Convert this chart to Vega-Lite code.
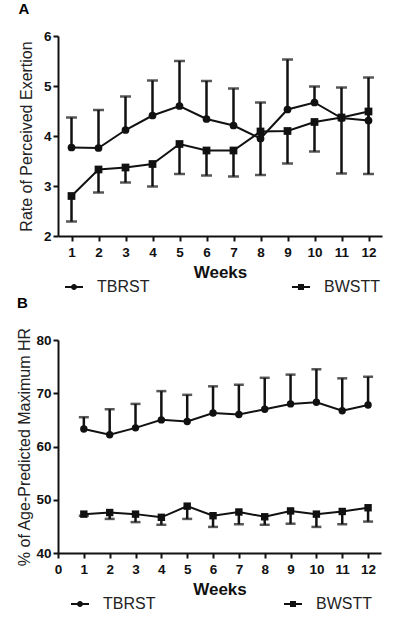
{
  "$schema": "https://vega.github.io/schema/vega-lite/v6.json",
  "padding": {"left": 16, "top": 2, "right": 10, "bottom": 5},
  "background": "white",
  "spacing": 0,
  "config": {
    "font": "Liberation Sans",
    "view": {"stroke": null},
    "axis": {
      "domainColor": "#111", "domainWidth": 2, "tickColor": "#111", "tickWidth": 2, "tickSize": 5,
      "labelFont": "Liberation Sans", "labelFontWeight": "bold", "labelFontSize": 13.5, "labelColor": "#111",
      "grid": false, "titleColor": "#222", "titleFont": "Liberation Sans", "labelPadding": 2
    },
    "title": {"fontSize": 15, "fontWeight": "bold", "anchor": "start", "color": "#000", "frame": "bounds"}
  },
  "datasets": {
    "rpe": [
      {"week": 1, "group": "TBRST", "mean": 3.77, "err": 4.37},
      {"week": 2, "group": "TBRST", "mean": 3.76, "err": 4.52},
      {"week": 3, "group": "TBRST", "mean": 4.12, "err": 4.79},
      {"week": 4, "group": "TBRST", "mean": 4.41, "err": 5.11},
      {"week": 5, "group": "TBRST", "mean": 4.60, "err": 5.50},
      {"week": 6, "group": "TBRST", "mean": 4.34, "err": 5.10},
      {"week": 7, "group": "TBRST", "mean": 4.21, "err": 4.95},
      {"week": 8, "group": "TBRST", "mean": 3.95, "err": 4.67},
      {"week": 9, "group": "TBRST", "mean": 4.53, "err": 5.53},
      {"week": 10, "group": "TBRST", "mean": 4.67, "err": 4.99},
      {"week": 11, "group": "TBRST", "mean": 4.36, "err": 4.97},
      {"week": 12, "group": "TBRST", "mean": 4.31, "err": 5.17},
      {"week": 1, "group": "BWSTT", "mean": 2.80, "err": 2.29},
      {"week": 2, "group": "BWSTT", "mean": 3.33, "err": 2.87},
      {"week": 3, "group": "BWSTT", "mean": 3.37, "err": 3.07},
      {"week": 4, "group": "BWSTT", "mean": 3.44, "err": 2.99},
      {"week": 5, "group": "BWSTT", "mean": 3.84, "err": 3.24},
      {"week": 6, "group": "BWSTT", "mean": 3.71, "err": 3.21},
      {"week": 7, "group": "BWSTT", "mean": 3.71, "err": 3.19},
      {"week": 8, "group": "BWSTT", "mean": 4.09, "err": 3.22},
      {"week": 9, "group": "BWSTT", "mean": 4.10, "err": 3.45},
      {"week": 10, "group": "BWSTT", "mean": 4.28, "err": 3.69},
      {"week": 11, "group": "BWSTT", "mean": 4.37, "err": 3.25},
      {"week": 12, "group": "BWSTT", "mean": 4.49, "err": 3.24}
    ],
    "hr": [
      {"week": 1, "group": "TBRST", "mean": 63.3, "err": 65.5},
      {"week": 2, "group": "TBRST", "mean": 62.2, "err": 67.0},
      {"week": 3, "group": "TBRST", "mean": 63.5, "err": 68.0},
      {"week": 4, "group": "TBRST", "mean": 65.0, "err": 70.4},
      {"week": 5, "group": "TBRST", "mean": 64.7, "err": 69.7},
      {"week": 6, "group": "TBRST", "mean": 66.3, "err": 71.3},
      {"week": 7, "group": "TBRST", "mean": 66.0, "err": 71.6},
      {"week": 8, "group": "TBRST", "mean": 67.0, "err": 72.9},
      {"week": 9, "group": "TBRST", "mean": 68.0, "err": 73.5},
      {"week": 10, "group": "TBRST", "mean": 68.3, "err": 74.5},
      {"week": 11, "group": "TBRST", "mean": 66.7, "err": 72.8},
      {"week": 12, "group": "TBRST", "mean": 67.8, "err": 73.1},
      {"week": 1, "group": "BWSTT", "mean": 47.3, "err": 47.0},
      {"week": 2, "group": "BWSTT", "mean": 47.6, "err": 46.4},
      {"week": 3, "group": "BWSTT", "mean": 47.3, "err": 45.8},
      {"week": 4, "group": "BWSTT", "mean": 46.7, "err": 45.3},
      {"week": 5, "group": "BWSTT", "mean": 48.8, "err": 46.4},
      {"week": 6, "group": "BWSTT", "mean": 47.0, "err": 44.9},
      {"week": 7, "group": "BWSTT", "mean": 47.7, "err": 45.4},
      {"week": 8, "group": "BWSTT", "mean": 46.8, "err": 45.3},
      {"week": 9, "group": "BWSTT", "mean": 47.9, "err": 45.5},
      {"week": 10, "group": "BWSTT", "mean": 47.3, "err": 44.9},
      {"week": 11, "group": "BWSTT", "mean": 47.8, "err": 45.4},
      {"week": 12, "group": "BWSTT", "mean": 48.5, "err": 45.9}
    ]
  },
  "resolve": {
    "scale": {"x": "independent", "y": "independent", "shape": "independent"},
    "axis": {"x": "independent", "y": "independent"},
    "legend": {"shape": "independent"}
  },
  "vconcat": [
    {
      "title": {"text": "A", "offset": 12},
      "width": 324,
      "height": 200,
      "data": {"name": "rpe"},
      "encoding": {
        "x": {
          "field": "week", "type": "quantitative",
          "scale": {"domain": [0.5, 12.5], "nice": false, "zero": false},
          "axis": {"values": [1,2,3,4,5,6,7,8,9,10,11,12], "title": "Weeks", "titleFontSize": 17, "titleFontWeight": "bold", "titleColor": "#111", "titlePadding": 6, "labelFlush": false, "labelPadding": 4}
        },
        "y": {"field": "mean", "type": "quantitative", "scale": {"domain": [2, 6], "nice": false, "zero": false},
          "axis": {"values": [2,3,4,5,6], "title": "Rate of Perceived Exertion", "titleFontSize": 16, "titleFontWeight": "normal", "titlePadding": 9}}
      },
      "layer": [
        {
          "mark": {"type": "rule", "strokeWidth": 2.5, "color": "#111"},
          "encoding": {"y2": {"field": "err"}}
        },
        {
          "mark": {"type": "tick", "orient": "horizontal", "size": 11, "thickness": 2.5, "color": "#111"},
          "encoding": {
            "y": {"field": "err", "type": "quantitative", "scale": {"domain": [2, 6], "nice": false, "zero": false},
              "axis": {"values": [2,3,4,5,6], "title": "Rate of Perceived Exertion", "titleFontSize": 16, "titleFontWeight": "normal", "titlePadding": 9}}
          }
        },
        {
          "mark": {"type": "line", "strokeWidth": 2, "color": "#111"},
          "encoding": {"detail": {"field": "group"}}
        },
        {
          "transform": [{"filter": "datum.group === 'TBRST'"}],
          "mark": {"type": "point", "shape": "circle", "filled": true, "size": 60, "color": "#111", "opacity": 1},
          "encoding": {}
        },
        {
          "transform": [{"filter": "datum.group === 'BWSTT'"}],
          "mark": {"type": "point", "shape": "square", "filled": true, "size": 60, "color": "#111", "opacity": 1},
          "encoding": {}
        },
        {
          "mark": {"type": "point", "filled": true, "size": 0, "color": "#111"},
          "encoding": {
            "shape": {
              "field": "group", "type": "nominal",
              "scale": {"domain": ["TBRST", "BWSTT"], "range": ["M-3,-0.3L3,-0.3L3,0.3L-3,0.3ZM-1,0A1,1,0,1,1,1,0A1,1,0,1,1,-1,0Z", "M-3,-0.3L3,-0.3L3,0.3L-3,0.3ZM-1,-1L1,-1L1,1L-1,1Z"]},
              "legend": {
                "orient": "none", "legendX": 8, "legendY": 243, "direction": "horizontal", "title": null, "padding": 0,
                "labelFontSize": 16, "labelFont": "Liberation Sans", "labelColor": "#222",
                "columnPadding": 142, "symbolSize": 36, "labelOffset": 15,
                "symbolStrokeWidth": 0, "symbolFillColor": "#111", "symbolOpacity": 1
              }
            }
          }
        }
      ]
    },
    {
      "title": {"text": "B", "offset": 16},
      "width": 323,
      "height": 213,
      "data": {"name": "hr"},
      "encoding": {
        "x": {
          "field": "week", "type": "quantitative",
          "scale": {"domain": [0, 12.5], "nice": false, "zero": false},
          "axis": {"values": [0,1,2,3,4,5,6,7,8,9,10,11,12], "title": "Weeks", "titleFontSize": 17, "titleFontWeight": "bold", "titleColor": "#111", "titlePadding": 6, "labelFlush": false, "labelPadding": 4}
        },
        "y": {"field": "mean", "type": "quantitative", "scale": {"domain": [40, 80], "nice": false, "zero": false},
          "axis": {"values": [40,50,60,70,80], "title": "% of Age-Predicted Maximum HR", "titleFontSize": 16, "titleFontWeight": "normal", "titlePadding": 3}}
      },
      "layer": [
        {
          "mark": {"type": "rule", "strokeWidth": 2.5, "color": "#111"},
          "encoding": {"y2": {"field": "err"}}
        },
        {
          "mark": {"type": "tick", "orient": "horizontal", "size": 10, "thickness": 2.5, "color": "#111"},
          "encoding": {
            "y": {"field": "err", "type": "quantitative", "scale": {"domain": [40, 80], "nice": false, "zero": false},
              "axis": {"values": [40,50,60,70,80], "title": "% of Age-Predicted Maximum HR", "titleFontSize": 16, "titleFontWeight": "normal", "titlePadding": 3}}
          }
        },
        {
          "mark": {"type": "line", "strokeWidth": 2, "color": "#111"},
          "encoding": {"detail": {"field": "group"}}
        },
        {
          "transform": [{"filter": "datum.group === 'TBRST'"}],
          "mark": {"type": "point", "shape": "circle", "filled": true, "size": 55, "color": "#111", "opacity": 1},
          "encoding": {}
        },
        {
          "transform": [{"filter": "datum.group === 'BWSTT'"}],
          "mark": {"type": "point", "shape": "square", "filled": true, "size": 55, "color": "#111", "opacity": 1},
          "encoding": {}
        },
        {
          "mark": {"type": "point", "filled": true, "size": 0, "color": "#111"},
          "encoding": {
            "shape": {
              "field": "group", "type": "nominal",
              "scale": {"domain": ["TBRST", "BWSTT"], "range": ["M-3,-0.3L3,-0.3L3,0.3L-3,0.3ZM-1,0A1,1,0,1,1,1,0A1,1,0,1,1,-1,0Z", "M-3,-0.3L3,-0.3L3,0.3L-3,0.3ZM-1,-1L1,-1L1,1L-1,1Z"]},
              "legend": {
                "orient": "none", "legendX": 14, "legendY": 256, "direction": "horizontal", "title": null, "padding": 0,
                "labelFontSize": 16, "labelFont": "Liberation Sans", "labelColor": "#222",
                "columnPadding": 128, "symbolSize": 36, "labelOffset": 15,
                "symbolStrokeWidth": 0, "symbolFillColor": "#111", "symbolOpacity": 1
              }
            }
          }
        }
      ]
    }
  ]
}
